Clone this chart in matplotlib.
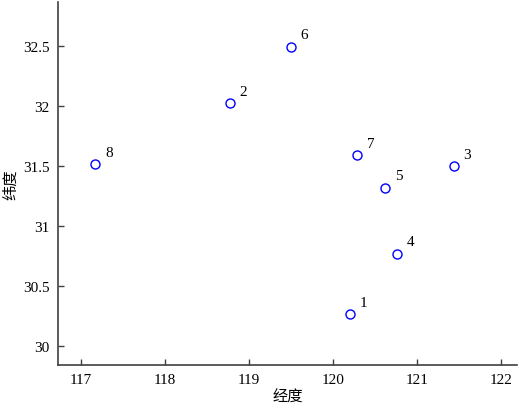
import matplotlib
matplotlib.use("Agg")
import matplotlib.pyplot as plt

# site coordinates
ids = ["1", "2", "3", "4", "5", "6", "7", "8"]
lon = [120.20, 118.77, 121.44, 120.76, 120.62, 119.50, 120.29, 117.17]
lat = [30.265, 32.025, 31.50, 30.77, 31.32, 32.495, 31.59, 31.515]

xticks = [117, 118, 119, 120, 121, 122]
yticks = [30, 30.5, 31, 31.5, 32, 32.5]
ytick_labels = ["30", "30.5", "31", "31.5", "32", "32.5"]

plt.rcParams['font.family'] = ['Liberation Serif', 'Noto Sans CJK SC']

fig = plt.figure(figsize=(5.19, 4.10), dpi=100)
ax = fig.add_axes([0.112, 0.107, 0.884, 0.886])

ax.plot(lon, lat, 'o', mfc='none', mec='#0000ff', ms=6.5, mew=1.0)
for i in range(len(ids)):
    ax.annotate(ids[i], (lon[i], lat[i]), xytext=(7, 6), textcoords='offset points',
                fontsize=11, color='black')

ax.set_xlim(116.725, 122.19)
ax.set_ylim(29.84, 32.87)
ax.set_xticks(xticks)
ax.set_yticks(yticks)
ax.set_yticklabels(ytick_labels)

for s in ['top', 'right']:
    ax.spines[s].set_visible(False)
for s in ['left', 'bottom']:
    ax.spines[s].set_color('#404040')
    ax.spines[s].set_linewidth(1.2)
ax.tick_params(direction='in', length=4, width=1, color='#404040', labelsize=11, pad=6)

ax.set_xlabel('经度', family=['Noto Sans CJK SC'], fontsize=11, labelpad=1)
ax.set_ylabel('纬度', family=['Noto Sans CJK SC'], fontsize=11, labelpad=3)

fig.savefig('out.png', dpi=100)
